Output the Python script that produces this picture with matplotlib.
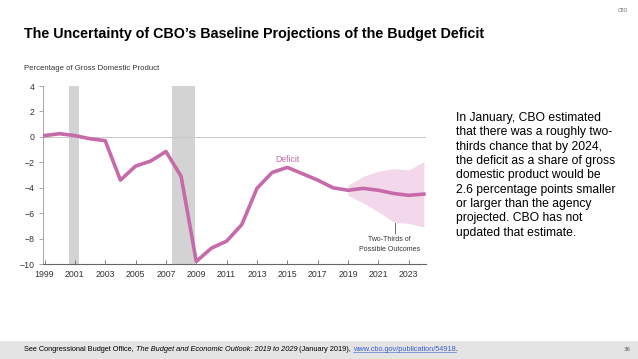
import matplotlib.pyplot as plt
from matplotlib.patches import Rectangle
import numpy as np

years = [1999, 2000, 2001, 2002, 2003, 2004, 2005, 2006, 2007, 2008, 2009, 2010,
         2011, 2012, 2013, 2014, 2015, 2016, 2017, 2018, 2019, 2020, 2021, 2022,
         2023, 2024]
deficit = [0.1, 0.25, 0.1, -0.15, -0.3, -3.4, -2.3, -1.9, -1.15, -3.1, -9.8, -8.75,
           -8.2, -6.9, -4.05, -2.8, -2.4, -2.9, -3.4, -4.0, -4.2, -4.05, -4.2, -4.45,
           -4.6, -4.5]
band_years = [2019, 2020, 2021, 2022, 2023, 2024]
band_upper = [-3.8, -3.1, -2.7, -2.5, -2.6, -1.95]
band_lower = [-4.6, -5.2, -5.9, -6.7, -6.8, -7.1]
recessions = [(2000.6, 2001.3), (2007.4, 2008.9)]

pink = '#c66aaa'
band_col = '#f3d8ec'
small = 'Liberation Sans'

fig = plt.figure(figsize=(6.38, 3.59), dpi=100)
fig.patch.set_facecolor('white')

ax = fig.add_axes([0.0674, 0.2646, 0.6006, 0.4958])
for a, b in recessions:
    ax.axvspan(a, b, color='#d3d3d3', lw=0, zorder=0)
ax.axhline(0, color='#c8c8c8', lw=0.7, zorder=1)
ax.fill_between(band_years, band_lower, band_upper, color=band_col, lw=0, zorder=2)
ax.plot(years, deficit, color=pink, lw=2.6, zorder=3, solid_joinstyle='round')

ax.set_xlim(1998.9, 2024.15)
ax.set_ylim(-10, 4)
ax.set_xticks(range(1999, 2024, 2))
ax.set_yticks(range(-10, 5, 2))
ax.set_yticklabels(['\u221210', '\u22128', '\u22126', '\u22124', '\u22122', '0', '2', '4'])
for lab in ax.get_xticklabels() + ax.get_yticklabels():
    lab.set_family(small)
for s in ['top', 'right']:
    ax.spines[s].set_visible(False)
ax.spines['left'].set_color('#999999')
ax.spines['bottom'].set_color('#666666')
ax.spines['left'].set_linewidth(0.6)
ax.spines['bottom'].set_linewidth(0.8)
ax.tick_params(axis='x', direction='in', length=3, width=0.6, color='#666666',
               labelsize=6.3, labelcolor='#333333', pad=4)
ax.tick_params(axis='y', direction='out', length=3, width=0.6, color='#999999',
               labelsize=6.3, labelcolor='#333333', pad=3)
ax.set_facecolor('none')

ax.text(2015.0, -1.8, 'Deficit', color=pink, fontsize=6.2, family=small,
        ha='center', va='center')
ax.plot([2022.1, 2022.1], [-6.75, -7.6], color='#555555', lw=0.6)
ax.text(2021.75, -8.45, 'Two-Thirds of\nPossible Outcomes', color='#333333', fontsize=5.0,
        family=small, ha='center', va='center', linespacing=1.5)

fig.text(0.0376, 0.81, 'Percentage of Gross Domestic Product', fontsize=5.6, family=small,
         color='#333333', va='center')

fig.text(0.0376, 0.905, 'The Uncertainty of CBO\u2019s Baseline Projections of the Budget Deficit',
         fontsize=10.3, fontweight='bold', family='Liberation Sans', va='center')
fig.text(0.968, 0.972, 'CBO', fontsize=3.5, color='#666666', va='center', ha='left')

fig.text(0.715, 0.688,
         'In January, CBO estimated\nthat there was a roughly two-\nthirds chance that by 2024,\n'
         'the deficit as a share of gross\ndomestic product would be\n2.6 percentage points smaller\n'
         'or larger than the agency\nprojected. CBO has not\nupdated that estimate.',
         fontsize=8.7, family='Liberation Sans', va='top', linespacing=1.26)

fig.patches.append(Rectangle((0, 0), 1, 0.051, transform=fig.transFigure,
                             color='#e4e4e4', lw=0, zorder=0))
fs = 5.3
t1 = fig.text(0.0376, 0.027, 'See Congressional Budget Office, ', fontsize=fs,
              family='Liberation Sans', va='center')
t2 = fig.text(0, 0, 'The Budget and Economic Outlook: 2019 to 2029', fontsize=fs,
              family='Liberation Sans', style='italic', va='center')
t3 = fig.text(0, 0, ' (January 2019), ', fontsize=fs, family='Liberation Sans', va='center')
t4 = fig.text(0, 0, 'www.cbo.gov/publication/54918', fontsize=fs, family='Liberation Sans',
              va='center', color='#3a5fcd')
t5 = fig.text(0, 0, '.', fontsize=fs, family='Liberation Sans', va='center')
fig.text(0.978, 0.027, '36', fontsize=4.0, color='#555555', va='center', ha='left')

fig.canvas.draw()
r = fig.canvas.get_renderer()
prev = t1
for t in [t2, t3, t4, t5]:
    bb = prev.get_window_extent(r)
    t.set_position((bb.x1 / fig.bbox.width, 0.027))
    fig.canvas.draw()
    prev = t
bb = t4.get_window_extent(r)
fig.add_artist(plt.Line2D([bb.x0 / fig.bbox.width, bb.x1 / fig.bbox.width],
                          [bb.y0 / fig.bbox.height + 0.002] * 2, color='#3a5fcd', lw=0.4,
                          transform=fig.transFigure))

fig.savefig('out.png', dpi=100)
